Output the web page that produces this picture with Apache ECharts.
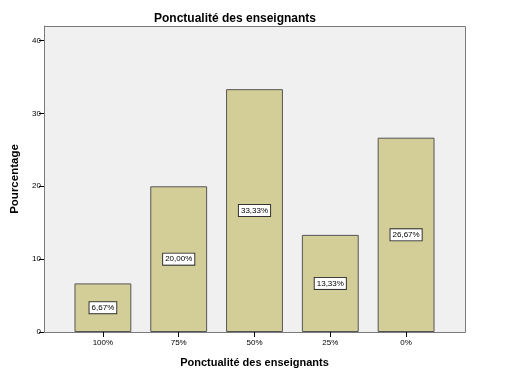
<!DOCTYPE html>
<html><head><meta charset="utf-8">
<script src="https://cdn.jsdelivr.net/npm/echarts@6/dist/echarts.min.js"></script>
<style>html,body{margin:0;padding:0;background:#fff}#c{width:522px;height:375px}</style>
</head><body><div id="c"></div>
<script>
const categories = ['100%', '75%', '50%', '25%', '0%'];
const values = [6.67, 20.00, 33.33, 13.33, 26.67];
const yTicks = [0, 10, 20, 30, 40];
const title = 'Ponctualité des enseignants';
const yName = 'Pourcentage';
const xName = 'Ponctualité des enseignants';

const chart = echarts.init(document.getElementById('c'), null, {renderer: 'canvas'});
const fmt = v => v.toFixed(2).replace('.', ',') + '%';
chart.setOption({
  animation: false,
  backgroundColor: '#ffffff',
  textStyle: {fontFamily: 'Liberation Sans, Arial, sans-serif'},
  title: {text: title, left: 149, top: 8,
    textStyle: {fontSize: 12, fontWeight: 'bold', color: '#000'}},
  graphic: [{type: 'rect', z: -10, shape: {x: 44.5, y: 26.5, width: 421, height: 306},
    style: {fill: '#f0f0f0', stroke: '#7a7a7a', lineWidth: 1}}],
  grid: {left: 65, right: 78, top: 26, bottom: 43},
  xAxis: {type: 'category', data: categories,
    name: xName, nameLocation: 'middle', nameGap: 25,
    nameTextStyle: {fontSize: 11, fontWeight: 'bold', color: '#000'},
    axisLine: {show: false},
    axisTick: {show: true, alignWithLabel: true, length: 5, inside: false, lineStyle: {color: '#000'}},
    axisLabel: {fontSize: 8, color: '#000', margin: 7}},
  yAxis: {type: 'value', min: 0, max: 42, interval: 10, offset: 21,
    name: yName, nameLocation: 'middle', nameGap: 20,
    nameTextStyle: {fontSize: 11.5, fontWeight: 'bold', color: '#000'},
    axisLine: {show: true, lineStyle: {color: '#7a7a7a'}},
    axisTick: {show: true, length: 5, lineStyle: {color: '#000'},
      customValues: yTicks},
    axisLabel: {fontSize: 8, color: '#000', margin: 3,
      customValues: yTicks},
    splitLine: {show: false}},
  series: [{type: 'bar', data: values, barWidth: '75%',
    itemStyle: {color: '#d3ce97', borderColor: '#555555', borderWidth: 1},
    label: {show: true, position: 'inside', formatter: p => fmt(p.value),
      fontSize: 8, color: '#000', backgroundColor: '#ffffff',
      borderColor: '#333', borderWidth: 1, padding: [2, 2, 1, 2]}}]
});
</script></body></html>
